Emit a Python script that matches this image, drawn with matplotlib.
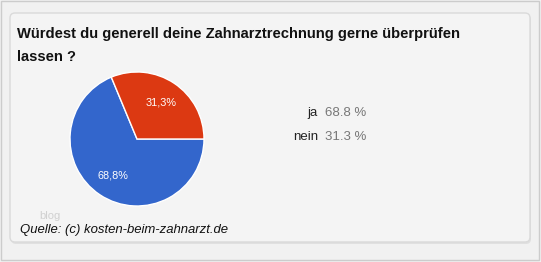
import numpy as np
import matplotlib.pyplot as plt
from matplotlib.patches import FancyBboxPatch, Rectangle

title = 'Würdest du generell deine Zahnarztrechnung gerne überprüfen\nlassen ?'
categories = ['ja', 'nein']
values = [68.8, 31.3]
pie_labels = ['68,8%', '31,3%']
colors = ['#3366cc', '#dc3912']
source = 'Quelle: (c) kosten-beim-zahnarzt.de'

plt.rcParams['font.family'] = ['Liberation Sans', 'DejaVu Sans']

W, H = 541, 262
fig = plt.figure(figsize=(W / 100, H / 100), dpi=100)
fig.patch.set_facecolor('#f1f1f1')

# pixel-coordinate axes for the frame and texts
bg = fig.add_axes([0, 0, 1, 1])
bg.set_xlim(0, W)
bg.set_ylim(H, 0)
bg.axis('off')

bg.add_patch(Rectangle((1, 1), W - 3, H - 3, fill=False, ec='#cccccc', lw=1))
# shadow + card
bg.add_patch(FancyBboxPatch((11, 15), 520, 229, boxstyle='round,pad=0,rounding_size=5',
                            fc='#e0e0e0', ec='none'))
bg.add_patch(FancyBboxPatch((10, 13), 520, 229, boxstyle='round,pad=0,rounding_size=5',
                            fc='#f4f4f4', ec='#dadada', lw=1))

bg.text(17, 45.5, title, fontsize=10.65, fontweight='bold', color='#111111',
        ha='left', va='center', linespacing=1.75)

for i, (cat, v) in enumerate(zip(categories, values)):
    y = 113 + i * 24
    bg.text(318, y, cat, fontsize=9.5, color='#222222', ha='right', va='center')
    bg.text(325, y, f'{v:.1f} %', fontsize=9.5, color='#777777', ha='left', va='center')

bg.text(39, 216, 'blog', fontsize=8, color='#d0d0d0', ha='left', va='center')
bg.text(20, 230, source, fontsize=9.45, style='italic', color='#111111', ha='left', va='center')

# pie
cx, cy, r = 137, 139, 67
ax = fig.add_axes([(cx - r) / W, (H - cy - r) / H, 2 * r / W, 2 * r / H])
wedges, _ = ax.pie(values, colors=colors, startangle=0, counterclock=False,
                   wedgeprops=dict(edgecolor='white', linewidth=1))
ax.set_xlim(-1, 1)
ax.set_ylim(-1, 1)
ax.axis('off')
for w, lab in zip(wedges, pie_labels):
    mid = np.deg2rad((w.theta1 + w.theta2) / 2)
    ax.text(0.65 * np.cos(mid), 0.65 * np.sin(mid), lab, color='white', fontsize=7.8,
            ha='center', va='center')

fig.savefig('out.png', dpi=100, facecolor=fig.get_facecolor())
